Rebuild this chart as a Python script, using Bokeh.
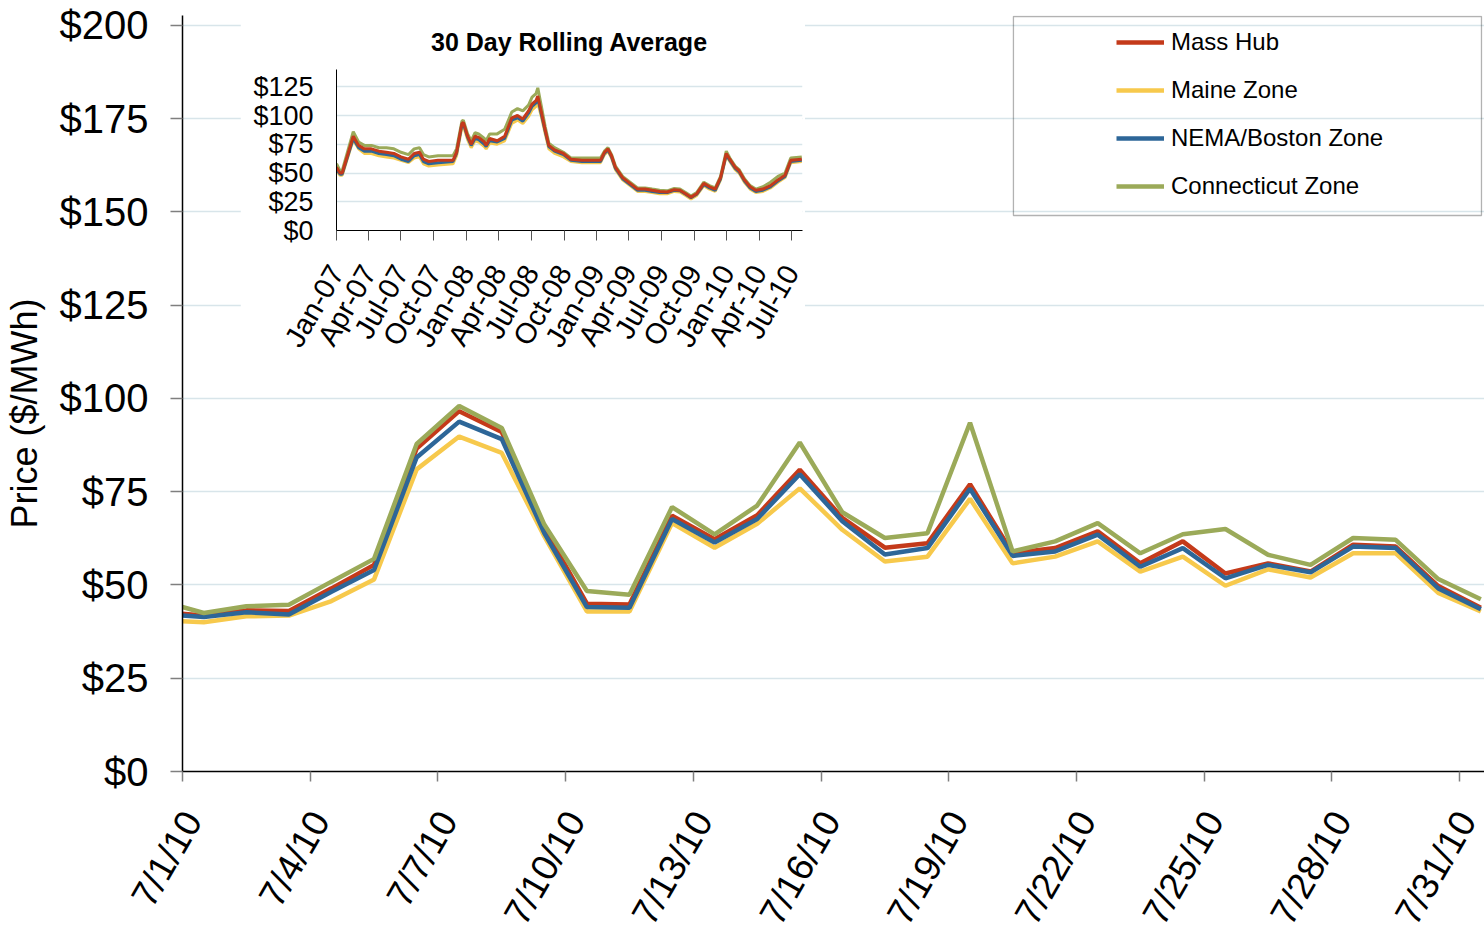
import math
import pandas as pd
from bokeh.plotting import figure
from bokeh.models import (FixedTicker, NumeralTickFormatter, Legend, LegendItem,
                          BoxAnnotation, Range1d, LinearAxis)
from bokeh.embed import file_html
from bokeh.resources import INLINE

FONT = "Liberation Sans"

# ---------------- main chart: daily prices, July 2010 ($/MWh) ----------------
dates = ["2010-06-30"] + [f"2010-07-{d:02d}" for d in range(1, 32)]
mass_hub = [42.8, 41.8, 43.2, 43.0, 49.1, 55.4, 86.6, 96.6, 91.0, 65.3, 45.0, 44.8,
            68.6, 62.3, 68.7, 80.9, 68.0, 60.0, 61.2, 77.0, 58.5, 59.9, 64.4, 55.8,
            61.7, 53.1, 55.8, 53.6, 60.8, 60.3, 49.7, 43.9]
maine = [40.6, 40.0, 41.6, 41.8, 45.7, 51.5, 81.0, 89.8, 85.4, 63.0, 42.9, 42.9,
         66.6, 60.0, 66.4, 75.9, 64.8, 56.3, 57.6, 73.1, 55.8, 57.6, 61.7, 53.6,
         57.6, 49.8, 54.2, 52.0, 58.5, 58.5, 47.9, 42.9]
nema = [42.2, 41.4, 42.7, 42.1, 48.2, 54.0, 84.2, 93.8, 89.1, 63.9, 44.1, 43.9,
        67.7, 61.4, 67.7, 79.7, 67.1, 58.2, 59.9, 75.8, 57.8, 59.0, 63.5, 54.9,
        59.9, 51.8, 55.4, 53.4, 60.3, 59.9, 49.1, 43.5]
connecticut = [45.7, 42.5, 44.3, 44.7, 50.9, 57.0, 87.8, 98.0, 92.1, 66.2, 48.4, 47.4,
               70.9, 63.6, 71.3, 88.2, 69.5, 62.6, 63.9, 93.5, 59.0, 61.7, 66.6, 58.5,
               63.6, 65.0, 58.1, 55.4, 62.6, 62.1, 51.6, 46.2]
tick_dates = ["2010-07-01", "2010-07-04", "2010-07-07", "2010-07-10", "2010-07-13",
              "2010-07-16", "2010-07-19", "2010-07-22", "2010-07-25", "2010-07-28",
              "2010-07-31"]
tick_labels = ["7/1/10", "7/4/10", "7/7/10", "7/10/10", "7/13/10", "7/16/10",
               "7/19/10", "7/22/10", "7/25/10", "7/28/10", "7/31/10"]
y_ticks = [0, 25, 50, 75, 100, 125, 150, 175, 200]

series_names = ["Mass Hub", "Maine Zone", "NEMA/Boston Zone", "Connecticut Zone"]
series_colors = ["#C43A1A", "#F7C94C", "#2D6698", "#9BAA59"]

# ---------------- inset: 30 day rolling average ----------------
inset_dates = ["2007-01-01", "2007-01-11", "2007-01-17", "2007-02-17", "2007-03-04",
               "2007-03-20", "2007-04-09", "2007-04-30", "2007-05-21", "2007-06-11",
               "2007-07-01", "2007-07-22", "2007-08-07", "2007-08-22", "2007-09-02",
               "2007-09-17", "2007-10-13", "2007-11-24", "2007-12-04", "2007-12-19",
               "2007-12-23", "2008-01-04", "2008-01-14", "2008-01-25", "2008-02-04",
               "2008-02-20", "2008-02-25", "2008-03-06", "2008-03-27", "2008-04-17",
               "2008-05-07", "2008-05-23", "2008-06-07", "2008-06-23", "2008-07-03",
               "2008-07-14", "2008-07-19", "2008-07-29", "2008-08-09", "2008-08-19",
               "2008-09-04", "2008-09-29", "2008-10-20", "2008-11-20", "2008-12-21",
               "2009-01-11", "2009-01-22", "2009-02-01", "2009-02-11", "2009-02-22",
               "2009-03-14", "2009-04-04", "2009-04-25", "2009-05-16", "2009-06-05",
               "2009-06-26", "2009-07-17", "2009-08-06", "2009-08-22", "2009-09-07",
               "2009-09-22", "2009-10-08", "2009-10-28", "2009-11-13", "2009-11-29",
               "2009-12-14", "2009-12-30", "2010-01-09", "2010-01-24", "2010-02-04",
               "2010-02-19", "2010-03-07", "2010-03-23", "2010-04-12", "2010-05-03",
               "2010-05-24", "2010-06-13", "2010-06-29", "2010-07-30"]
inset_mass_hub = [55, 50, 50, 82, 74, 71, 71, 69, 68, 67, 64, 62, 67, 68, 62, 60, 61, 61,
                  68, 93, 94, 82, 75, 82, 81, 77, 74, 80, 78, 82, 98, 100, 97, 104, 110,
                  113, 117, 103, 87, 74, 70, 67, 62, 61, 61, 61, 68, 71, 65, 55, 46, 41,
                  36, 36, 35, 34, 33.5, 35.5, 35, 32, 29, 32, 41, 38, 36, 46, 67, 62, 55,
                  52, 44, 38, 35, 36, 39, 44, 48, 61, 62]
inset_maine = [52, 48, 48, 79, 71, 67, 67, 65, 64, 63, 61, 59, 63, 64, 58, 56, 57, 58,
               65, 90, 91, 79, 72, 78, 77, 73, 71, 76, 75, 78, 93, 96, 93, 99, 105,
               108, 111, 99, 84, 71, 67, 64, 60, 59, 59, 59, 66, 69, 63, 53, 44, 39,
               34, 34, 33, 32, 32, 34, 33.5, 30.5, 27.5, 30.5, 39, 36, 34, 44, 65, 60,
               53, 50, 42, 36, 33, 34, 37, 42, 46, 59, 60]
inset_nema = [53, 49, 49, 80, 72, 69, 69, 67, 66, 65, 62, 60, 65, 66, 60, 58, 59, 60,
              67, 92, 93, 81, 74, 80, 79, 75, 73, 78, 77, 80, 96, 98, 95, 102, 108,
              111, 115, 101, 86, 73, 69, 66, 61, 60, 60, 60, 67, 70, 64, 54, 45, 40,
              35, 35, 34, 33, 33, 35, 34.5, 31.5, 28.5, 31.5, 40, 37, 35, 45, 66, 61,
              54, 51, 43, 37, 34, 35, 38, 43, 47, 60, 61]
inset_connecticut = [58, 52, 52, 86, 77, 74, 74, 72, 72, 71, 68, 66, 71, 72, 66, 64, 65,
                     65, 71, 95, 96, 84, 78, 85, 84, 80, 78, 84, 84, 88, 103, 106, 104,
                     109, 116, 119, 124, 108, 90, 76, 72, 68, 63, 63, 63, 63, 69, 72, 66,
                     56, 47, 42, 37, 37, 36, 35, 34.5, 36.5, 36, 33, 30, 33, 42, 39, 37,
                     47, 69, 63, 56, 53, 45, 39, 36, 38, 42, 47, 50, 63, 64]
inset_tick_labels = ["Jan-07", "Apr-07", "Jul-07", "Oct-07", "Jan-08", "Apr-08", "Jul-08",
                     "Oct-08", "Jan-09", "Apr-09", "Jul-09", "Oct-09", "Jan-10", "Apr-10",
                     "Jul-10"]
inset_y_ticks = [0, 25, 50, 75, 100, 125]

# ---------------- derived x positions ----------------
main_start = pd.Timestamp("2010-07-01")
x_main = [(pd.Timestamp(d) - main_start).days + 0.5 for d in dates]
main_tick_pos = [(pd.Timestamp(d) - main_start).days for d in tick_dates]
LABEL_SHIFT = 0.235  # rotated labels sit slightly right of their tick, as in the source
label_pos = [t + LABEL_SHIFT for t in main_tick_pos]

inset_start = pd.Timestamp("2007-01-01")
x_inset = [(pd.Timestamp(d) - inset_start).days for d in inset_dates]
inset_tick_dates = pd.date_range("2007-01-01", "2010-07-01", freq="QS")
inset_tick_pos = [int((d - inset_start).days) for d in inset_tick_dates]
inset_end = (pd.Timestamp("2010-08-01") - inset_start).days

GRID = "#D8E5EA"

# ---------------- main figure ----------------
p = figure(width=1484, height=944, output_backend="svg", toolbar_location=None,
           x_range=Range1d(0, 30.586), y_range=Range1d(0, 202.68),
           min_border_left=182, min_border_right=0, min_border_top=15,
           min_border_bottom=173)
p.outline_line_color = None
p.background_fill_color = "white"
p.border_fill_color = "white"
p.xgrid.visible = False
p.ygrid.grid_line_color = GRID
p.ygrid.grid_line_width = 1.5

p.yaxis.ticker = FixedTicker(ticks=y_ticks)
p.yaxis.formatter = NumeralTickFormatter(format="$0")
p.yaxis.major_label_text_font = FONT
p.yaxis.major_label_text_font_size = "40px"
p.yaxis.major_label_text_color = "black"
p.yaxis.major_tick_out = 12
p.yaxis.major_tick_in = 0
p.yaxis.major_tick_line_color = "#7F7F7F"
p.yaxis.major_tick_line_width = 1.5
p.yaxis.minor_tick_line_color = None
p.yaxis.axis_line_color = "black"
p.yaxis.axis_line_width = 1.5
p.yaxis.major_label_standoff = 22
p.yaxis.axis_label = "Price ($/MWh)" + "\u00a0" * 4
p.yaxis.axis_label_text_font = FONT
p.yaxis.axis_label_text_font_style = "normal"
p.yaxis.axis_label_text_font_size = "36px"
p.yaxis.axis_label_text_color = "black"
p.yaxis.axis_label_standoff = 12

# tick marks (as unlabelled minor ticks) and axis line
p.xaxis.ticker = FixedTicker(ticks=[], minor_ticks=main_tick_pos)
p.xaxis.major_label_standoff = 0
p.xaxis.major_tick_out = 10
p.xaxis.major_tick_in = 0
p.xaxis.minor_tick_out = 10
p.xaxis.minor_tick_in = 0
p.xaxis.minor_tick_line_color = "#7F7F7F"
p.xaxis.minor_tick_line_width = 1.5
p.xaxis.axis_line_color = "black"
p.xaxis.axis_line_width = 1.5

# date labels
xlab = LinearAxis(ticker=FixedTicker(ticks=label_pos),
                  major_label_overrides={pos: lab for pos, lab in zip(label_pos, tick_labels)},
                  major_label_orientation=math.pi / 3,
                  major_label_text_font=FONT, major_label_text_font_size="37px",
                  major_label_text_color="black", major_label_standoff=33,
                  major_tick_out=0, major_tick_in=0, major_tick_line_color=None,
                  minor_tick_line_color=None, axis_line_color=None)
p.add_layout(xlab, "below")

renderers = []
for name, vals, col in zip(series_names, [mass_hub, maine, nema, connecticut], series_colors):
    r = p.line(x_main, vals, line_width=4.5, line_color=col)
    renderers.append(r)

box = BoxAnnotation(left=19.52, right=30.515, top=202.41, bottom=149.06,
                    fill_color=None, line_color="black", line_width=1.3, level="overlay")
p.add_layout(box)

legend = Legend(items=[LegendItem(label=n, renderers=[r]) for n, r in zip(series_names, renderers)],
                location=(934, 561), border_line_color=None, background_fill_alpha=0,
                padding=0, margin=0, spacing=0, glyph_width=48, glyph_height=48,
                label_height=48, label_standoff=7, label_text_font=FONT,
                label_text_font_size="24px", label_text_color="black")
p.add_layout(legend)

# ---------------- inset figure ----------------
q = figure(width=565, height=354, output_backend="svg", toolbar_location=None,
           x_range=Range1d(0, inset_end), y_range=Range1d(0, 140),
           min_border_left=96, min_border_right=3, min_border_top=57,
           min_border_bottom=135, title="30 Day Rolling Average")
q.title.align = "center"
q.title.text_font = FONT
q.title.text_font_style = "bold"
q.title.text_font_size = "25px"
q.title.text_color = "black"
q.title.standoff = 28
q.title.offset = 4
q.outline_line_color = None
q.background_fill_color = "white"
q.border_fill_color = "white"
q.xgrid.visible = False
q.ygrid.grid_line_color = GRID
q.ygrid.grid_line_width = 1.5

q.yaxis.ticker = FixedTicker(ticks=inset_y_ticks)
q.yaxis.formatter = NumeralTickFormatter(format="$0")
q.yaxis.major_label_text_font = FONT
q.yaxis.major_label_text_font_size = "27px"
q.yaxis.major_label_text_color = "black"
q.yaxis.major_tick_out = 0
q.yaxis.major_tick_in = 0
q.yaxis.minor_tick_line_color = None
q.yaxis.axis_line_color = "black"
q.yaxis.major_label_standoff = 23

q.xaxis.ticker = FixedTicker(ticks=inset_tick_pos)
q.xaxis.major_label_overrides = {pos: lab for pos, lab in zip(inset_tick_pos, inset_tick_labels)}
q.xaxis.major_label_orientation = math.pi / 3
q.xaxis.major_label_text_font = FONT
q.xaxis.major_label_text_font_size = "29px"
q.xaxis.major_label_text_color = "black"
q.xaxis.major_tick_out = 10
q.xaxis.major_tick_in = 0
q.xaxis.major_tick_line_color = "#555555"
q.xaxis.minor_tick_line_color = None
q.xaxis.axis_line_color = "black"
q.xaxis.major_label_standoff = 27

inset_series = [inset_connecticut, inset_maine, inset_nema, inset_mass_hub]
inset_colors = [series_colors[3], series_colors[1], series_colors[2], series_colors[0]]
for vals, col in zip(inset_series, inset_colors):
    q.line(x_inset, vals, line_width=3, line_color=col)

q.styles = {"position": "absolute", "left": "240px", "top": "11px"}

open("out.html", "w").write(file_html([p, q], INLINE))
